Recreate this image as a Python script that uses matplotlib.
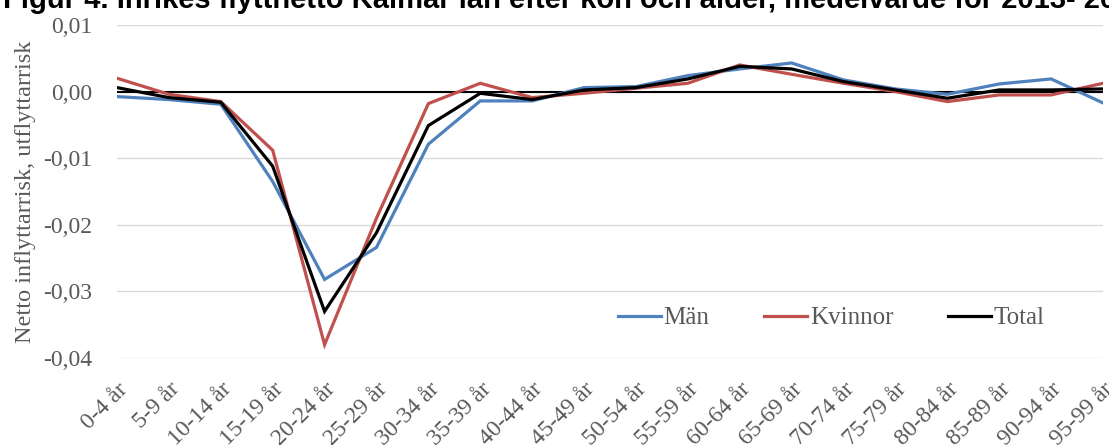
import matplotlib
matplotlib.use("Agg")
import matplotlib.pyplot as plt
from matplotlib.ticker import FuncFormatter

categories = ["0-4 år", "5-9 år", "10-14 år", "15-19 år", "20-24 år", "25-29 år",
              "30-34 år", "35-39 år", "40-44 år", "45-49 år", "50-54 år", "55-59 år",
              "60-64 år", "65-69 år", "70-74 år", "75-79 år", "80-84 år", "85-89 år",
              "90-94 år", "95-99 år"]
man = [-0.00075, -0.0012, -0.0019, -0.0135, -0.0282, -0.0234, -0.0079, -0.0014,
       -0.0014, 0.0006, 0.00075, 0.0024, 0.0034, 0.0043, 0.00175, 0.0004,
       -0.0004, 0.00115, 0.0019, -0.0017]
kvinnor = [0.0020, -0.0004, -0.0015, -0.0088, -0.0380, -0.0190, -0.0018, 0.00125,
           -0.0009, -0.00025, 0.0005, 0.00125, 0.0040, 0.0026, 0.00125, 0.0,
           -0.0015, -0.0005, -0.0005, 0.00125]
total = [0.0006, -0.0009, -0.0016, -0.0112, -0.0330, -0.0212, -0.0051, -0.00025,
         -0.0012, 0.00025, 0.0006, 0.0019, 0.0038, 0.0034, 0.0015, 0.00025,
         -0.0010, 0.00025, 0.00025, 0.0004]
series_names = ["Män", "Kvinnor", "Total"]
series_colors = ["#4f81bd", "#c0504d", "#000000"]
title = "Figur 4. Inrikes flyttnetto Kalmar län efter kön och ålder, medelvärde för 2013- 2017"
ylabel = "Netto inflyttarrisk, utflyttarrisk"

W, H = 1109, 445
fig = plt.figure(figsize=(W / 100, H / 100), dpi=100)
ax = fig.add_axes([117 / W, 1 - 358 / H, (1103 - 117) / W, (358 - 25) / H])

gray = "#595959"
serif = ["Liberation Serif", "DejaVu Serif"]

x = list(range(len(categories)))
for vals, name, col in zip([man, kvinnor, total], series_names, series_colors):
    ax.plot(x, vals, color=col, lw=2.3, label=name, solid_joinstyle="miter", zorder=3)

ax.axhline(0, color="black", lw=1.5, zorder=2)
ax.set_ylim(-0.04, 0.01)
ax.set_xlim(0, len(categories) - 1)
ax.set_yticks([0.01, 0.0, -0.01, -0.02, -0.03, -0.04])
ax.yaxis.set_major_formatter(FuncFormatter(lambda v, p: f"{v:.2f}".replace(".", ",").replace("-0,00", "0,00")))
ax.grid(axis="y", color="#d9d9d9", lw=1)
ax.set_axisbelow(True)
ax.set_xticks(x)
ax.set_xticklabels(categories, rotation=45, ha="right", rotation_mode="anchor")
for s in ax.spines.values():
    s.set_visible(False)
ax.tick_params(axis="both", length=0, colors=gray)
for lab in ax.get_yticklabels():
    lab.set_fontfamily(serif)
    lab.set_fontsize(17)
for lab in ax.get_xticklabels():
    lab.set_fontfamily(serif)
    lab.set_fontsize(17)
ax.tick_params(axis="y", pad=18)
ax.tick_params(axis="x", pad=15)

ax.set_ylabel(ylabel, fontfamily=serif, fontsize=17.5, color=gray, labelpad=5)

leg = ax.legend(loc="center left", bbox_to_anchor=((618 - 117) / 986, (358 - 318) / 333), ncol=3,
                frameon=False, prop={"family": serif, "size": 18}, handlelength=1.72,
                handletextpad=0.1, columnspacing=2.2, borderaxespad=0, borderpad=0)
for t in leg.get_texts():
    t.set_color(gray)

fig.text(3 / W, 1 - 8 / H, title, fontsize=21, fontweight="bold", family=["Liberation Sans", "DejaVu Sans"],
         ha="left", va="baseline", color="black")

fig.savefig("out.png", dpi=100)
